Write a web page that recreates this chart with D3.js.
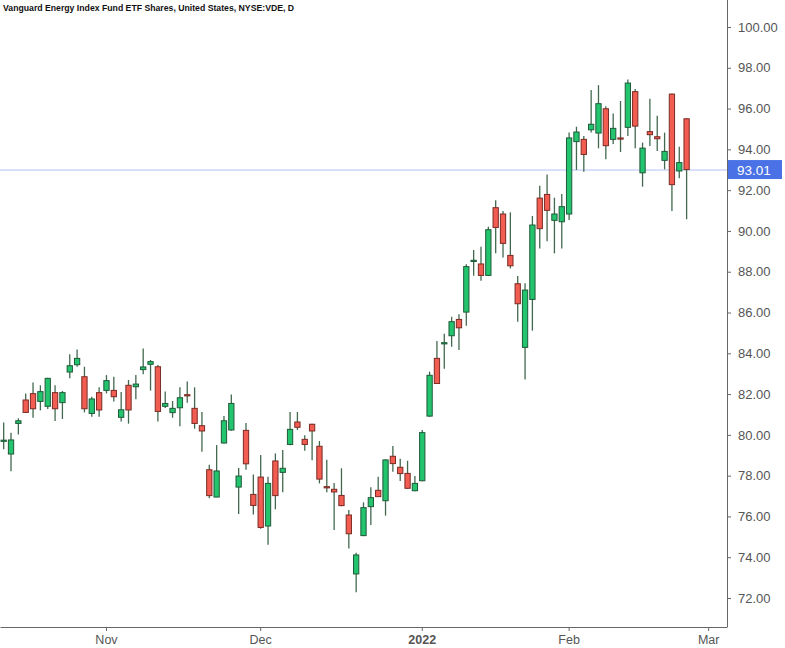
<!DOCTYPE html>
<meta charset="utf-8" />
<script src="https://d3js.org/d3.v7.min.js"></script>
<style>
  body { margin: 0; background: #fff; }
  svg { display: block; font-family: "Liberation Sans", Arial, sans-serif; }
</style>
<div id="chart"></div>
<script>
  // daily candles, NYSE:VDE, 12 Oct 2021 .. 24 Feb 2022
  const firstDay = "2021-10-12";
  const lastAxisDay = "2022-03-03";
  const holidays = ["2021-11-25", "2021-12-24", "2022-01-17", "2022-02-21"];

  const open = [
    79.70, 79.06, 80.56, 81.71, 82.02, 81.64, 81.40, 82.07, 81.58, 83.08,
    83.44, 82.85, 81.05, 82.07, 82.18, 82.18, 80.86, 82.43, 82.36, 83.20,
    83.46, 83.34, 81.40, 81.09, 81.33, 81.97, 81.30, 80.45, 78.29, 76.95,
    79.60, 80.24, 77.44, 80.22, 77.08, 77.93, 75.53, 78.72, 78.16, 79.53,
    80.63, 79.78, 80.52, 79.44, 77.46, 77.33, 77.03, 76.07, 73.18, 75.06,
    76.48, 77.28, 76.77, 78.95, 78.41, 78.11, 77.26, 77.75, 80.92, 83.75,
    84.47, 84.86, 85.66, 86.02, 88.52, 88.38, 87.82, 91.14, 90.83, 88.80,
    87.41, 84.29, 86.64, 91.61, 91.79, 90.52, 90.45, 90.83, 94.38, 94.49,
    94.96, 94.80, 95.99, 94.49, 94.56, 95.08, 96.83, 92.85, 94.87, 94.62,
    93.46, 96.71, 92.94, 95.50
  ];
  const high = [
    80.60, 80.10, 80.81, 82.03, 82.57, 82.43, 82.80, 82.43, 82.15, 83.95,
    84.19, 83.34, 81.87, 82.33, 82.93, 82.85, 82.10, 82.69, 82.93, 84.24,
    83.67, 83.42, 82.13, 81.66, 82.33, 82.62, 82.33, 81.12, 78.54, 79.50,
    80.92, 81.98, 78.37, 80.58, 78.06, 79.01, 77.95, 79.09, 79.26, 81.12,
    81.12, 79.98, 80.55, 79.70, 78.78, 77.64, 78.36, 76.31, 74.22, 76.69,
    77.43, 77.95, 78.80, 79.45, 78.83, 78.73, 77.98, 80.24, 83.10, 84.60,
    84.96, 85.79, 85.91, 88.36, 89.06, 89.23, 90.21, 91.51, 90.98, 90.91,
    87.79, 87.43, 90.73, 92.22, 92.77, 91.63, 91.81, 94.83, 95.11, 94.65,
    96.91, 97.15, 96.11, 95.76, 96.37, 97.43, 96.96, 94.33, 96.48, 95.65,
    94.82, 96.74, 94.13, 95.52
  ];
  const low = [
    79.29, 78.21, 80.02, 81.09, 80.84, 81.20, 81.27, 80.68, 80.78, 82.77,
    83.34, 81.10, 80.89, 80.89, 82.03, 81.63, 80.66, 80.55, 81.74, 82.97,
    82.17, 80.66, 81.32, 80.84, 80.42, 81.58, 80.30, 79.17, 76.89, 76.95,
    79.58, 80.20, 76.12, 78.29, 76.10, 75.40, 74.61, 76.35, 77.18, 79.49,
    80.24, 79.22, 78.75, 77.62, 77.18, 75.33, 76.50, 74.43, 72.28, 75.03,
    75.58, 76.95, 76.04, 78.19, 77.74, 77.36, 77.24, 77.73, 80.88, 82.49,
    83.24, 84.32, 84.16, 85.35, 87.80, 87.56, 87.80, 88.90, 88.70, 88.16,
    85.55, 82.72, 85.11, 89.14, 89.49, 88.90, 89.14, 90.53, 92.99, 92.90,
    94.83, 94.05, 93.51, 94.26, 93.87, 94.65, 94.05, 92.17, 94.16, 93.92,
    93.02, 90.98, 92.58, 90.57
  ];
  const close = [
    79.74, 79.75, 80.69, 81.10, 81.28, 82.12, 82.77, 81.28, 82.07, 83.39,
    83.75, 81.28, 81.76, 81.22, 82.66, 81.87, 81.23, 81.22, 82.49, 83.33,
    83.59, 81.15, 81.54, 81.30, 81.82, 81.94, 80.56, 80.19, 77.02, 78.23,
    80.69, 81.54, 77.98, 78.58, 76.54, 75.46, 77.62, 77.02, 78.36, 80.27,
    80.37, 79.53, 80.19, 77.83, 77.43, 77.20, 76.53, 75.15, 74.11, 76.43,
    76.92, 76.97, 78.77, 78.59, 78.10, 77.38, 77.62, 80.11, 82.92, 82.52,
    84.52, 85.55, 85.25, 88.25, 88.56, 87.82, 90.06, 90.17, 89.39, 88.29,
    86.43, 87.10, 90.29, 90.11, 91.01, 90.83, 91.19, 94.56, 94.85, 93.75,
    95.23, 96.24, 94.18, 95.03, 94.52, 97.25, 95.14, 94.06, 94.72, 94.52,
    93.90, 92.27, 93.35, 93.01
  ];

  const yTicks = [72, 74, 76, 78, 80, 82, 84, 86, 88, 90, 92, 94, 96, 98, 100];
  const xTickDays = ["2021-11-01", "2021-12-01", "2022-01-03", "2022-02-01", "2022-03-01"];
  const xTickLabels = ["Nov", "Dec", "2022", "Feb", "Mar"];
  const lastPrice = 93.01;
  const title = "Vanguard Energy Index Fund ETF Shares, United States, NYSE:VDE, D";

  const W = 785, H = 648;
  const plotRight = 727, axisY = 627;

  const fmt = d3.timeFormat("%Y-%m-%d");
  const parse = d3.timeParse("%Y-%m-%d");
  // trading days (weekdays minus exchange holidays)
  const days = d3.timeDay.range(parse(firstDay), d3.timeDay.offset(parse(lastAxisDay), 1))
    .filter(d => d.getDay() !== 0 && d.getDay() !== 6)
    .map(fmt)
    .filter(d => !holidays.includes(d));

  const candles = open.map((o, i) => ({
    day: days[i], o: o, h: high[i], l: low[i], c: close[i]
  }));

  const svg = d3.select("#chart").append("svg")
    .attr("width", W).attr("height", H);

  const x = d3.scaleBand().domain(days).range([0, plotRight]).padding(0);
  const y = d3.scaleLinear().domain([72, 100]).range([598, 27]);
  const cx = d => x(d) + x.bandwidth() / 2;
  const bodyW = x.bandwidth() * 0.72;

  // last price line
  svg.append("line")
    .attr("x1", 0).attr("x2", plotRight)
    .attr("y1", y(lastPrice) + 0.5).attr("y2", y(lastPrice) + 0.5)
    .attr("stroke", "#b3c2f3").attr("stroke-width", 1);

  const g = svg.append("g").selectAll("g").data(candles).join("g");

  g.append("line")
    .attr("x1", d => cx(d.day)).attr("x2", d => cx(d.day))
    .attr("y1", d => y(d.h)).attr("y2", d => y(d.l))
    .attr("stroke", "#42694f").attr("stroke-width", 1.3);

  g.append("rect")
    .attr("x", d => cx(d.day) - bodyW / 2)
    .attr("width", bodyW)
    .attr("y", d => y(Math.max(d.o, d.c)))
    .attr("height", d => Math.max(1.2, Math.abs(y(d.o) - y(d.c))))
    .attr("fill", d => d.c >= d.o ? "#22c46d" : "#f35c50")
    .attr("stroke", d => d.c >= d.o ? "#1f5a39" : "#7a2b24")
    .attr("stroke-width", 1);

  // right price axis
  const yAxis = svg.append("g")
    .attr("transform", `translate(${plotRight},0)`)
    .call(d3.axisRight(y).tickValues(yTicks).tickSize(4).tickPadding(7)
      .tickFormat(d3.format(".2f")));
  yAxis.select(".domain").remove();
  yAxis.selectAll(".tick line").attr("stroke", "#666");
  yAxis.selectAll("text").attr("fill", "#555").style("font-size", "13px");

  svg.append("line")
    .attr("x1", plotRight + 0.5).attr("x2", plotRight + 0.5)
    .attr("y1", 0).attr("y2", axisY)
    .attr("stroke", "#666");

  // time axis
  const xAxis = svg.append("g")
    .attr("transform", `translate(0,${axisY})`)
    .call(d3.axisBottom(x).tickValues(xTickDays).tickSize(4).tickSizeOuter(0).tickPadding(4)
      .tickFormat((d, i) => xTickLabels[i]));
  xAxis.select(".domain").attr("stroke", "#666");
  xAxis.selectAll(".tick line").attr("stroke", "#666");
  xAxis.selectAll("text").attr("fill", "#555").style("font-size", "12.5px")
    .style("font-weight", (d, i) => xTickLabels[i] === "2022" ? "bold" : "normal");

  // last price tag
  svg.append("rect")
    .attr("x", plotRight + 1).attr("y", y(lastPrice) - 9.5)
    .attr("width", 54).attr("height", 19)
    .attr("fill", "#4a72e6");
  svg.append("text")
    .attr("x", plotRight + 10).attr("y", y(lastPrice) + 5)
    .attr("fill", "#fff").style("font-size", "13.5px")
    .text(d3.format(".2f")(lastPrice));

  svg.append("text")
    .attr("x", 3).attr("y", 11)
    .style("font-size", "8.7px").style("font-weight", "bold")
    .attr("fill", "#111")
    .text(title);
</script>
